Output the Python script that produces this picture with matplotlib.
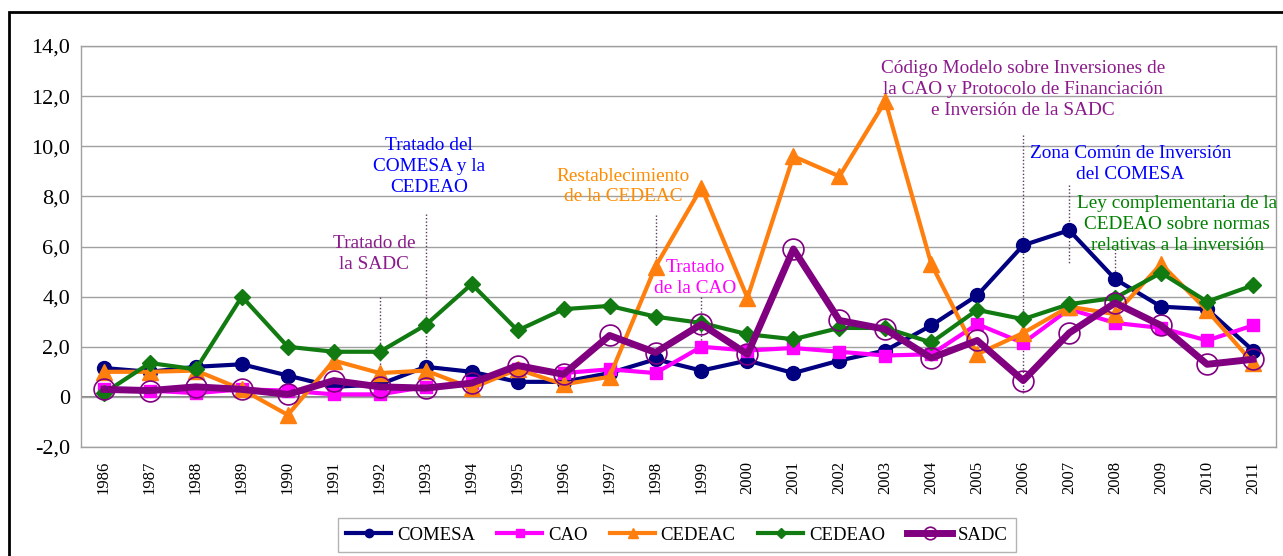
import matplotlib
matplotlib.use("Agg")
from matplotlib import pyplot as plt
from matplotlib.patches import Rectangle
from matplotlib.ticker import FuncFormatter

plt.rcParams['font.family'] = ['Liberation Serif', 'DejaVu Serif']

years = list(range(1986, 2012))

comesa = [1.15, 1.0, 1.2, 1.3, 0.85, 0.4, 0.5, 1.2, 1.0, 0.6, 0.6, 0.95, 1.5, 1.05,
          1.45, 0.95, 1.45, 1.85, 2.85, 4.05, 6.05, 6.65, 4.7, 3.6, 3.5, 1.85]
cao = [0.3, 0.25, 0.15, 0.3, 0.25, 0.1, 0.1, 0.4, 0.55, 1.1, 0.95, 1.1, 0.95, 2.0,
       1.85, 1.95, 1.8, 1.65, 1.7, 2.9, 2.15, 3.5, 2.95, 2.75, 2.25, 2.85]
cedeac = [1.0, 1.0, 1.05, 0.3, -0.72, 1.45, 0.95, 1.05, 0.35, 1.1, 0.5, 0.8, 5.2, 8.35,
          3.95, 9.6, 8.8, 11.8, 5.3, 1.7, 2.55, 3.6, 3.3, 5.3, 3.45, 1.35]
cedeao = [0.15, 1.35, 1.1, 4.0, 2.0, 1.8, 1.8, 2.87, 4.5, 2.65, 3.5, 3.63, 3.2, 2.95,
          2.5, 2.3, 2.75, 2.75, 2.17, 3.47, 3.1, 3.7, 3.95, 4.95, 3.8, 4.45]
sadc = [0.3, 0.25, 0.4, 0.3, 0.1, 0.65, 0.4, 0.35, 0.55, 1.25, 0.9, 2.45, 1.77, 2.9,
        1.7, 5.9, 3.05, 2.7, 1.55, 2.25, 0.65, 2.55, 3.75, 2.85, 1.3, 1.5]

# (text, x, y, colour, dotted line x, y from, y to)
notes = [
    ("Tratado de\nla SADC", 1991.87, 6.45, "#8B1A8B", 1992, 4.0, 0.4),
    ("Tratado del\nCOMESA y la\nCEDEAO", 1993.07, 10.35, "#0000FF", 1993, 7.3, 1.2),
    ("Restablecimiento\nde la CEDEAC", 1997.3, 9.15, "#FF8C00", 1998, 7.25, 5.2),
    ("Tratado\nde la CAO", 1998.87, 5.5, "#FF00FF", 1999, 4.0, 2.0),
    ("Código Modelo sobre Inversiones de\nla CAO y Protocolo de Financiación\ne Inversión de la SADC",
     2006.0, 13.45, "#8B1A8B", 2006, 10.45, 0.15),
    ("Zona Común de Inversión\ndel COMESA", 2008.33, 10.05, "#0000FF", 2007, 8.45, 5.3),
    ("Ley complementaria de la\nCEDEAO sobre normas\nrelativas a la inversión",
     2009.35, 8.05, "#008000", 2008, 5.9, 4.75),
]

W, H = 1283, 556
fig = plt.figure(figsize=(W / 100, H / 100), dpi=100)
ax = fig.add_axes([81 / W, 1 - 447 / H, (1276 - 81) / W, (447 - 46) / H])

ax.plot(years, comesa, color="#000080", lw=3, marker="o", ms=10, label="COMESA", zorder=3)
ax.plot(years, cao, color="#FF00FF", lw=3, marker="s", ms=9, label="CAO", zorder=3)
ax.plot(years, cedeac, color="#FF7F0E", lw=3, marker="^", ms=11, label="CEDEAC", zorder=3)
ax.plot(years, cedeao, color="#117A11", lw=3, marker="D", ms=8, label="CEDEAO", zorder=3)
ax.plot(years, sadc, color="#800080", lw=5, marker="o", ms=15, mfc="none",
        mec="#800080", mew=1.2, label="SADC", zorder=4)

for txt, tx, ty, col, lx, y0, y1 in notes:
    ax.text(tx, ty, txt, color=col, fontsize=13.9, ha="center", va="top",
            linespacing=1.3, zorder=5)
    ax.plot([lx, lx], [y0, y1], color="#5A3A5A", lw=1, ls=(0, (1, 1.5)), zorder=2)

ax.set_xlim(1985.5, 2011.5)
ax.set_ylim(-2, 14)
ax.set_xticks(years)
ax.set_xticklabels([str(y) for y in years], rotation=90, fontsize=12)
ax.set_yticks(range(-2, 15, 2))
ax.yaxis.set_major_formatter(FuncFormatter(lambda v, p: "0" if v == 0 else ("%.1f" % v).replace(".", ",")))
ax.tick_params(axis="y", labelsize=16, length=0, pad=8)
ax.tick_params(axis="x", length=0, pad=10)
ax.grid(axis="y", color="#A0A0A0", lw=1)
ax.axhline(0, color="#707070", lw=1.2, zorder=1)
for s in ax.spines.values():
    s.set_color("#A0A0A0")
    s.set_linewidth(1)

leg = fig.legend(loc="center", bbox_to_anchor=(677 / W, 1 - 535 / H), ncol=5,
                 fontsize=13.5, frameon=True, fancybox=False, handlelength=2.4,
                 columnspacing=1.2, borderpad=0.45, handletextpad=0.3, markerscale=0.6)
leg.get_frame().set_edgecolor("#A0A0A0")
leg.get_frame().set_linewidth(1)

fig.patches.append(Rectangle((9 / W, -0.1), 1.2, 1.1 - 12 / H, transform=fig.transFigure,
                             fill=False, edgecolor="black", lw=2))

fig.savefig("out.png", dpi=100)
